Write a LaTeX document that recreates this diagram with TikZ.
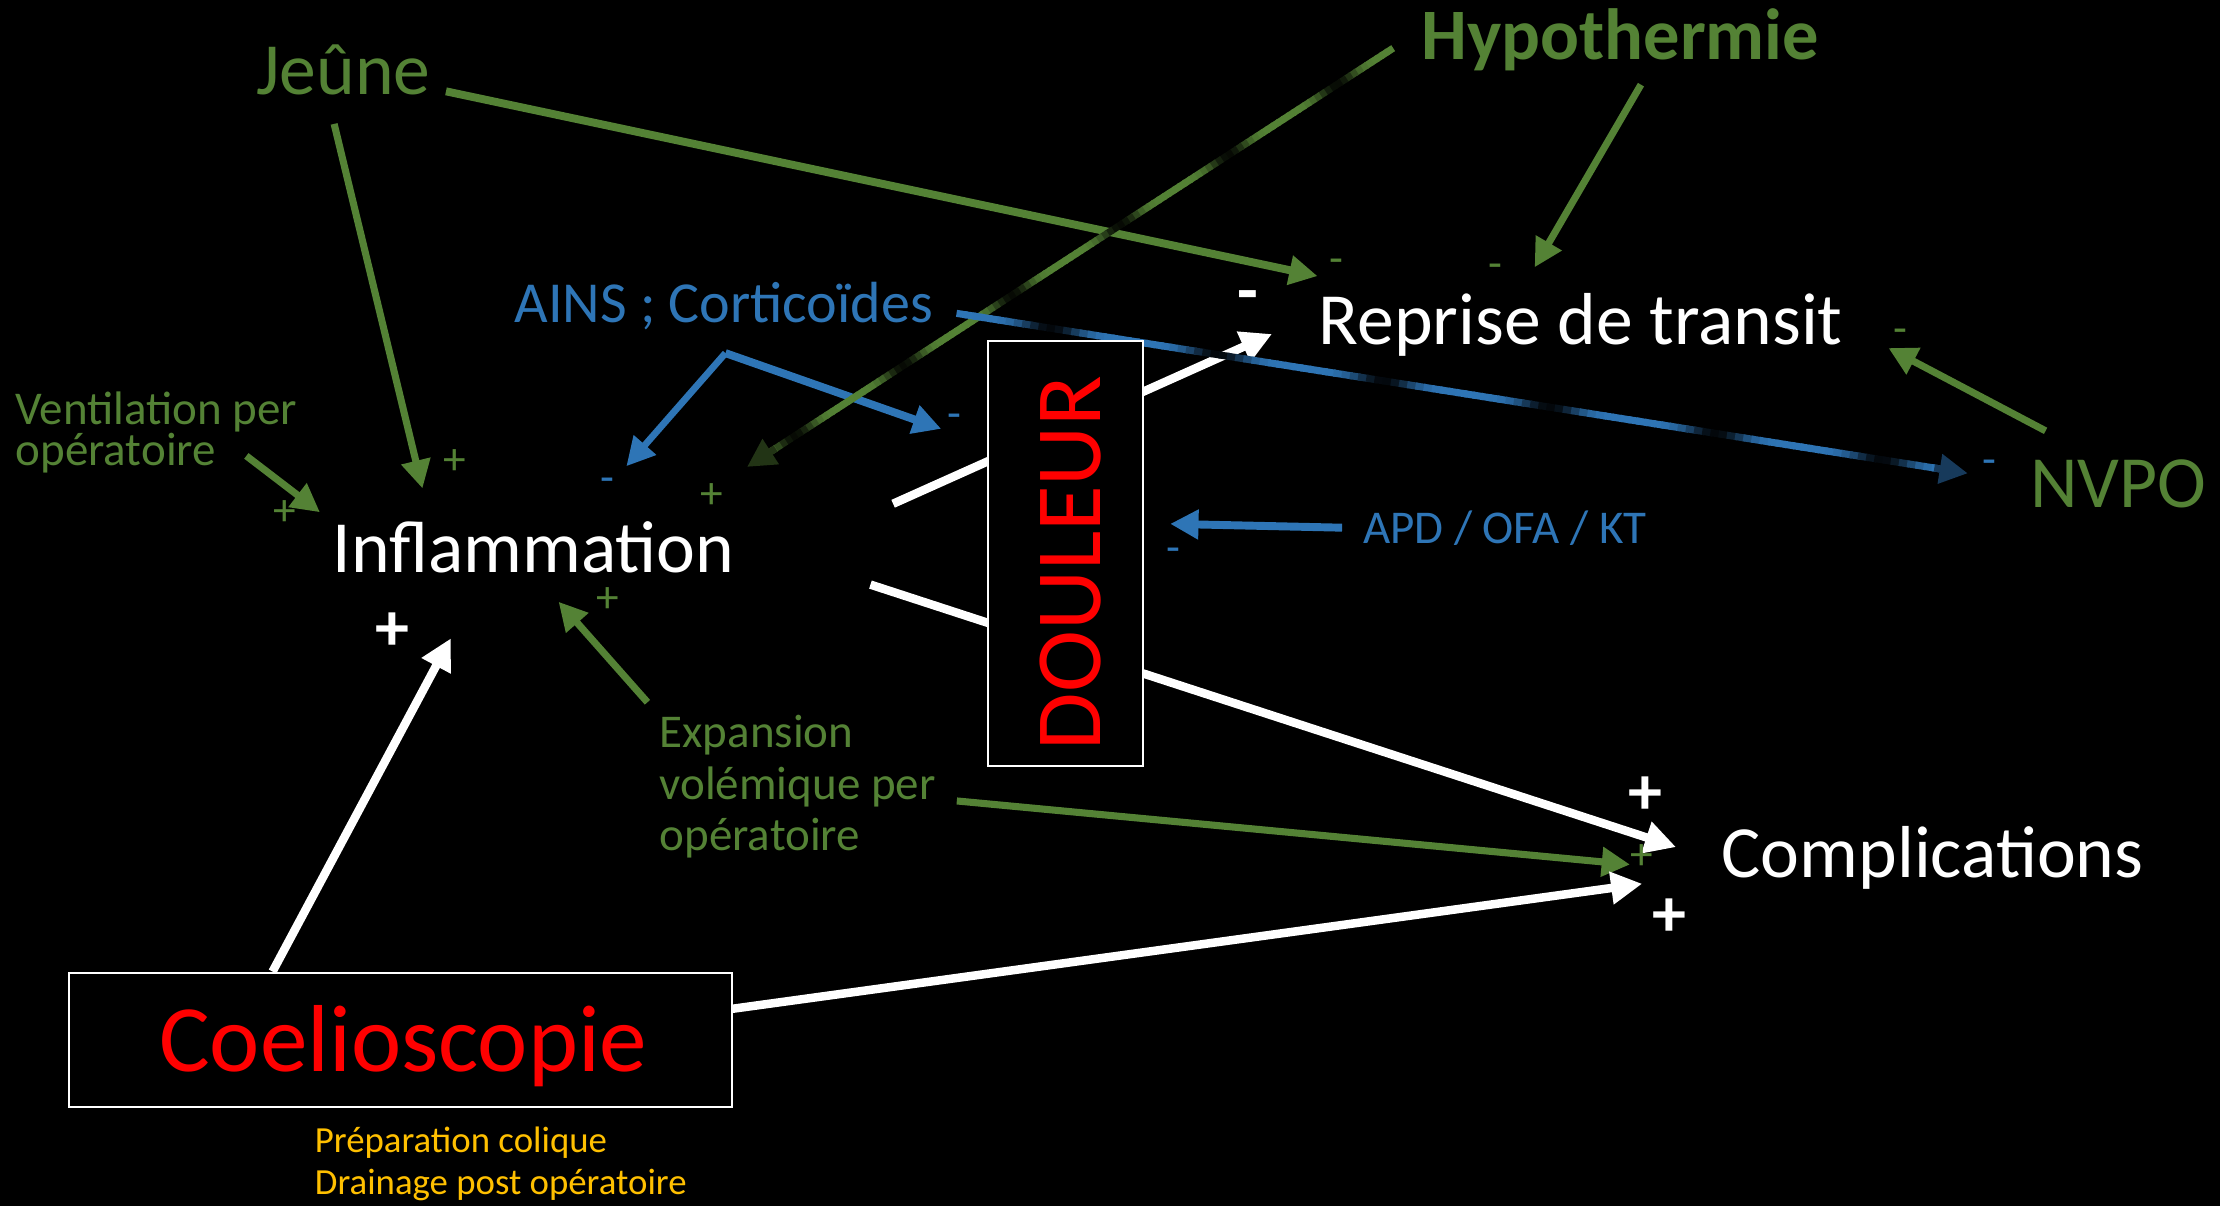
\documentclass[tikz,border=0pt]{standalone}
\usepackage{fontspec}
\setmainfont{Carlito}
\usetikzlibrary{arrows.meta,calc}
\definecolor{dgreen}{RGB}{84,130,53}
\definecolor{mblue}{RGB}{46,117,182}
\definecolor{gold}{RGB}{255,192,0}
\definecolor{pred}{RGB}{255,0,0}
\begin{document}
\begin{tikzpicture}[x=0.5pt,y=-0.5pt,
  lbl/.style={inner sep=0pt,outer sep=0pt,anchor=base west},
  signnode/.style={inner sep=0pt,outer sep=0pt,anchor=center},
  fbig/.style={font=\fontsize{26}{31}\selectfont},
  fmid/.style={font=\fontsize{20.5}{24}\selectfont},
  fsmall/.style={font=\fontsize{16.6}{20}\selectfont},
  ftiny/.style={font=\fontsize{13}{16}\selectfont},
  fmk/.style={font=\fontsize{16}{19}\selectfont},
  fmkb/.style={font=\bfseries\fontsize{24}{28}\selectfont},
  garrow/.style={draw=dgreen,line width=2.5pt,-{Triangle[length=10pt,width=10pt]}},
  barrow/.style={draw=mblue,line width=2.8pt,-{Triangle[length=10pt,width=10pt]}},
  warrow/.style={draw=white,line width=3pt,-{Triangle[length=11pt,width=11pt]}},
  boxw/.style={draw=white,line width=0.7pt,fill=black,inner sep=0pt}
]
\path[use as bounding box,fill=black] (0,0) rectangle (1568,852);

% ---------- text nodes ----------
\node[lbl,fbig,text=dgreen] (jeune) at (181,66.6) {Jeûne};
\node[lbl,font=\bfseries\fontsize{25.6}{30}\selectfont,text=dgreen] (hypo) at (1004,42) {Hypothermie};
\node[lbl,fbig,text=white] (reprise) at (931.5,243.6) {Reprise de transit};
\node[lbl,fbig,text=dgreen] (nvpo) at (1434,358.6) {NVPO};
\node[lbl,fmid,text=mblue] (ains) at (363.4,228) {AINS ; Corticoïdes};
\node[lbl,fsmall,text=dgreen] (vent1) at (11,300) {Ventilation per};
\node[lbl,fsmall,text=dgreen] (vent2) at (11,328.7) {opératoire};
\node[lbl,fbig,text=white] (infl) at (235,404) {Inflammation};
\node[lbl,fsmall,text=mblue] (apd) at (962.7,383.9) {APD / OFA / KT};
\node[lbl,fsmall,text=dgreen] (exp1) at (465.9,527.6) {Expansion};
\node[lbl,fsmall,text=dgreen] (exp2) at (465.9,564.5) {volémique per};
\node[lbl,fsmall,text=dgreen] (exp3) at (465.9,601) {opératoire};
\node[lbl,ftiny,text=gold] (prep1) at (222.4,813.8) {Préparation colique};
\node[lbl,ftiny,text=gold] (prep2) at (222.4,844) {Drainage post opératoire};
\node[lbl,fbig,text=white] (compl) at (1216,620) {Complications};

% ---------- connector end points ----------
\coordinate (jeA) at (236,87.5);      \coordinate (jeAt) at (298.4,345);
\coordinate (jeB) at (315,64.5);      \coordinate (jeBt) at (930.6,195);
\coordinate (hyA) at (984,34);        \coordinate (hyAt) at (527.6,329.8);
\coordinate (hyB) at (1159,59.8);     \coordinate (hyBt) at (1083.9,188.8);
\coordinate (nvA) at (1444.8,304.3);  \coordinate (nvAt) at (1333.8,245.8);
\coordinate (aiV) at (512.4,249.4);   \coordinate (aiL) at (442.4,329.3);
\coordinate (aiR) at (664.8,302.9);
\coordinate (aiN) at (675.6,221.3);   \coordinate (aiNt) at (1389.9,334.3);
\coordinate (apA) at (947.9,372.7);   \coordinate (apAt) at (826.5,370);
\coordinate (inR) at (630.8,355.8);   \coordinate (inRt) at (898.4,235.9);
\coordinate (inC) at (614.8,412.9);   \coordinate (inCt) at (1183.8,598.3);
\coordinate (exI) at (457.3,496);     \coordinate (exIt) at (394.5,425);
\coordinate (exC) at (675.8,565.7);   \coordinate (exCt) at (1151.3,610.6);
\coordinate (veA) at (174,322);       \coordinate (veAt) at (226,361.8);
\coordinate (coI) at (192.5,686.2);   \coordinate (coIt) at (318.4,450.9);
\coordinate (coC) at (517.4,712.5);   \coordinate (coCt) at (1159.9,624.2);

% ---------- plain connectors ----------
\draw[garrow] (jeA) -- (jeAt);
\draw[garrow,line width=2.8pt] (jeB) -- (jeBt);
\draw[garrow] (hyB) -- (hyBt);
\draw[garrow] (nvA) -- (nvAt);
\draw[garrow] (exI) -- (exIt);
\draw[garrow] (exC) -- (exCt);
\draw[garrow] (veA) -- (veAt);
\draw[barrow,line width=2.4pt] (aiV) -- (aiL);
\draw[barrow] (aiV) -- (aiR);
\draw[barrow] (apA) -- (apAt);
\draw[warrow] (inR) -- (inRt);
\draw[warrow] (inC) -- (inCt);
\draw[warrow] (coI) -- (coIt);
\draw[warrow] (coC) -- (coCt);

% ---------- striped (gradient) connector: Hypothermie -> Inflammation ----------
\coordinate (hyAe) at ($(hyAt)!10pt!(hyA)$);
\foreach \i in {0,...,119}{
  \pgfmathsetmacro\ta{\i/120}
  \pgfmathsetmacro\tb{min((\i+1.3)/120,1)}
  \pgfmathsetmacro\tm{(\i+0.5)/120}
  \pgfmathsetmacro\bump{(0.5+0.5*cos(360*(\tm-0.091)/0.174))^3}
  \pgfmathtruncatemacro\pc{100-92*\bump}
  \draw[line width=2.5pt,draw=dgreen!\pc!black] ($(hyA)!\ta!(hyAe)$) -- ($(hyA)!\tb!(hyAe)$);
}
\draw[line width=2.5pt,draw=dgreen!40!black,-{Triangle[length=10pt,width=10pt]}] ($(hyAt)!12pt!(hyA)$) -- (hyAt);

% ---------- striped (gradient) connector: AINS -> NVPO ----------
\coordinate (aiNe) at ($(aiNt)!10pt!(aiN)$);
\foreach \i in {0,...,119}{
  \pgfmathsetmacro\ta{\i/120}
  \pgfmathsetmacro\tb{min((\i+1.3)/120,1)}
  \pgfmathsetmacro\tm{(\i+0.5)/120}
  \pgfmathsetmacro\bump{(0.5+0.5*cos(360*(\tm-0.096)/0.169))^3}
  \pgfmathtruncatemacro\pc{100-94*\bump}
  \draw[line width=2.5pt,draw=mblue!\pc!black] ($(aiN)!\ta!(aiNe)$) -- ($(aiN)!\tb!(aiNe)$);
}
\draw[line width=2.5pt,draw=mblue!50!black,-{Triangle[length=10pt,width=10pt]}] ($(aiNt)!12pt!(aiN)$) -- (aiNt);

% ---------- boxes ----------
\node[boxw,minimum width=54.5pt,minimum height=150pt] (doulbox) at (752.5,391) {};
\node[inner sep=0pt,rotate=90,text=pred,font=\fontsize{33}{38}\selectfont] (douleur) at (756,397.5) {DOULEUR};
\node[boxw,minimum width=234pt,minimum height=47.5pt] (coelbox) at (283,734.5) {};
\node[lbl,text=pred,font=\fontsize{33.6}{38}\selectfont] (coel) at (112.5,756.8) {Coelioscopie};

% ---------- signs ----------
\node[signnode,fmk,text=dgreen] (p1) at (321,326) {+};
\node[signnode,fmk,text=dgreen] (p2) at (201,362.7) {+};
\node[signnode,fmk,text=dgreen] (p3) at (502.4,350.4) {+};
\node[signnode,fmk,text=dgreen] (p4) at (429,424) {+};
\node[signnode,fmk,text=dgreen] (p5) at (1159.9,605.2) {+};
\node[signnode,fmkb,text=white] (w1) at (277.4,446.2) {+};
\node[signnode,fmkb,text=white] (w2) at (1162.4,562.2) {+};
\node[signnode,fmkb,text=white] (w3) at (1178.8,648) {+};
\node[signnode,fmkb,text=white] (w4) at (881.5,213.3) {-};
\node[signnode,fmk,text=mblue] (m1) at (428.9,343) {-};
\node[signnode,fmk,text=mblue] (m2) at (673.8,297.4) {-};
\node[signnode,fmk,text=mblue] (m3) at (1405.3,330) {-};
\node[signnode,fmk,text=mblue] (m4) at (829,392.5) {-};
\node[signnode,fmk,text=dgreen] (g1) at (944,188.2) {-};
\node[signnode,fmk,text=dgreen] (g2) at (1056.4,191.4) {-};
\node[signnode,fmk,text=dgreen] (g3) at (1342.3,237.6) {-};
\end{tikzpicture}
\end{document}
